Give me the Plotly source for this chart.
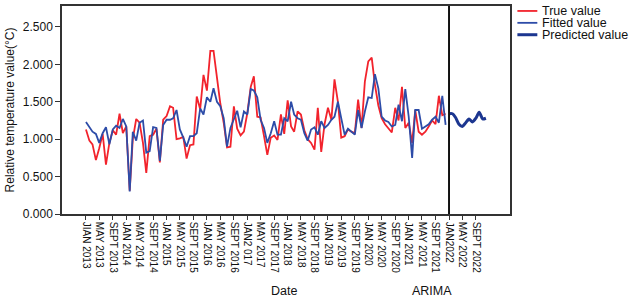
import pandas as pd
import plotly.graph_objects as go

# ---------------- data ----------------
true_values = [
    1.13, 0.98, 0.93, 0.72, 0.88, 1.07, 0.66, 0.95, 1.12, 1.06, 1.34, 1.08,
    1.17, 0.31, 1.00, 1.27, 1.22, 0.95, 0.55, 1.04, 1.06, 1.14, 0.69, 1.26,
    1.31, 1.44, 1.42, 1.00, 1.01, 1.03, 0.74, 0.92, 0.93, 1.57, 1.40, 1.86,
    1.65, 2.18, 2.18, 1.82, 1.48, 1.22, 0.89, 0.90, 1.44, 1.14, 1.05, 1.10,
    1.35, 1.70, 1.84, 1.30, 1.29, 1.04, 0.79, 1.02, 1.05, 0.99, 1.33, 1.07,
    1.52, 1.17, 1.10, 1.37, 1.33, 1.12, 1.00, 0.95, 0.86, 1.42, 0.83, 1.20,
    1.42, 1.26, 1.80, 1.50, 1.02, 1.04, 1.13, 1.10, 1.08, 1.53, 1.15, 1.77,
    2.04, 2.09, 1.73, 1.45, 1.28, 1.20, 1.15, 1.09, 1.42, 1.25, 1.70, 1.15,
    1.22, 0.95, 1.39, 1.10, 1.06, 1.10, 1.17, 1.25, 1.20, 1.58, 1.32, 1.34,
]
fitted_values = [
    1.23, 1.17, 1.10, 1.07, 0.95, 1.08, 1.16, 0.93, 1.13, 1.18, 1.15, 1.27,
    1.17, 0.30, 1.10, 0.98, 1.22, 1.25, 0.82, 0.84, 1.16, 1.15, 0.71, 1.19,
    1.26, 1.26, 1.28, 1.39, 1.13, 1.02, 0.90, 1.04, 1.04, 1.08, 1.41, 1.33,
    1.56, 1.50, 1.68, 1.50, 1.44, 1.28, 0.90, 1.15, 1.28, 1.38, 1.16, 1.37,
    1.33, 1.67, 1.65, 1.56, 1.26, 1.15, 0.95, 1.08, 1.24, 1.06, 1.06, 1.28,
    1.24, 1.50, 1.33, 1.28, 1.26, 1.08, 0.98, 1.13, 1.16, 1.06, 1.24, 1.15,
    1.19, 1.26, 1.30, 1.50, 1.28, 1.06, 1.14, 1.10, 1.06, 1.39, 1.15, 1.37,
    1.56, 1.55, 1.87, 1.68, 1.30, 1.25, 1.23, 1.17, 1.19, 1.46, 1.24, 1.67,
    1.30, 0.75, 1.39, 1.39, 1.14, 1.17, 1.20, 1.26, 1.30, 1.22, 1.58, 1.19,
]
predicted_values = [1.34, 1.34, 1.29, 1.20, 1.17, 1.22, 1.27, 1.23, 1.28, 1.36, 1.27, 1.28]

hist_dates = pd.date_range("2013-01-01", periods=len(true_values), freq="MS")
pred_dates = pd.date_range("2022-01-01", periods=len(predicted_values), freq="MS")

tick_dates = pd.date_range("2013-01-01", "2022-09-01", freq="4MS")
tick_labels = [
    "JIAN 2013", "MAY 2013", "SEPT 2013",
    "JAN 2014", "MAY 2014", "SEPT 2014",
    "JAN 2015", "MAY 2015", "SEPT 2015",
    "JAN 2016", "MAY 2016", "SEPT 2016",
    "JAN2 017", "MAY 2017", "SEPT 2017",
    "JAN 2018", "MAY 2018", "SEPT 2018",
    "JAN 2019", "MAY 2019", "SEPT 2019",
    "JAN 2020", "MAY 2020", "SEPT 2020",
    "JAN 2021", "MAY 2021", "SEPT 2021",
    "JAN2022", "MAY 2022", "SEPT 2022",
]
y_ticks = [0.0, 0.5, 1.0, 1.5, 2.0, 2.5]

series_names = ["True value", "Fitted value", "Predicted value"]
RED = "#f2232c"
BLUE = "#2d4ca8"
NAVY = "#1c3690"
FONT = "Liberation Sans, Arial, sans-serif"

fig = go.Figure()
fig.add_trace(go.Scatter(x=hist_dates, y=true_values, mode="lines",
                         line=dict(color=RED, width=1.8), name=series_names[0],
                         showlegend=False))
fig.add_trace(go.Scatter(x=hist_dates, y=fitted_values, mode="lines",
                         line=dict(color=BLUE, width=1.8), name=series_names[1],
                         showlegend=False))
fig.add_trace(go.Scatter(x=pred_dates, y=predicted_values, mode="lines",
                         line=dict(color=NAVY, width=3, shape="spline", smoothing=0.6),
                         name=series_names[2], showlegend=False))

# divider between fitted and predicted periods
fig.add_shape(type="line", xref="x", yref="paper",
              x0=pred_dates[0], x1=pred_dates[0], y0=0, y1=1,
              line=dict(color="#111111", width=2))

# custom compact legend
legend_colors = [RED, BLUE, NAVY]
legend_widths = [1.8, 1.8, 3]
for i, (nm, col, w) in enumerate(zip(series_names, legend_colors, legend_widths)):
    yy = 1 - (5 + 12 * i) / 210
    fig.add_shape(type="line", xref="paper", yref="paper",
                  x0=1.0165, x1=1.061, y0=yy, y1=yy,
                  line=dict(color=col, width=w))
    fig.add_annotation(xref="paper", yref="paper", x=1.067, y=yy,
                       text=nm, showarrow=False, xanchor="left", yanchor="middle",
                       font=dict(family=FONT, size=12.5, color="#111111"))

fig.add_annotation(xref="paper", yref="paper", x=0.496, y=-0.371, text="Date",
                   showarrow=False, xanchor="center", yanchor="middle",
                   font=dict(family=FONT, size=12.5, color="#111111"))
fig.add_annotation(xref="paper", yref="paper", x=0.826, y=-0.371, text="ARIMA",
                   showarrow=False, xanchor="center", yanchor="middle",
                   font=dict(family=FONT, size=12.5, color="#111111"))

fig.update_layout(
    width=637, height=299,
    margin=dict(l=62, r=127, t=4, b=85),
    paper_bgcolor="white", plot_bgcolor="white",
    font=dict(family=FONT, color="#111111"),
    showlegend=False,
)
fig.update_xaxes(
    range=["2012-05-29", "2023-07-07"],
    tickmode="array", tickvals=tick_dates, ticktext=tick_labels,
    tickangle=90, tickfont=dict(size=10, family=FONT, color="#111111"),
    ticks="outside", ticklen=4, tickcolor="#333333",
    showgrid=False, zeroline=False,
    showline=True, linecolor="#333333", linewidth=1.5, mirror=True,
)
fig.update_yaxes(
    range=[0, 2.78],
    tickmode="array", tickvals=y_ticks, tickformat=".3f",
    tickfont=dict(size=12, family=FONT, color="#111111"),
    ticks="outside", ticklen=5, tickcolor="#333333",
    showgrid=False, zeroline=False,
    showline=True, linecolor="#333333", linewidth=1.5, mirror=True,
    title=dict(text="Relative temperature value(°C)",
               font=dict(size=12, family=FONT, color="#111111"), standoff=6),
)

fig.write_html(
    "out.html",
    config={"displayModeBar": False},
    post_script="document.body.style.margin='0';document.body.style.padding='0';",
)
